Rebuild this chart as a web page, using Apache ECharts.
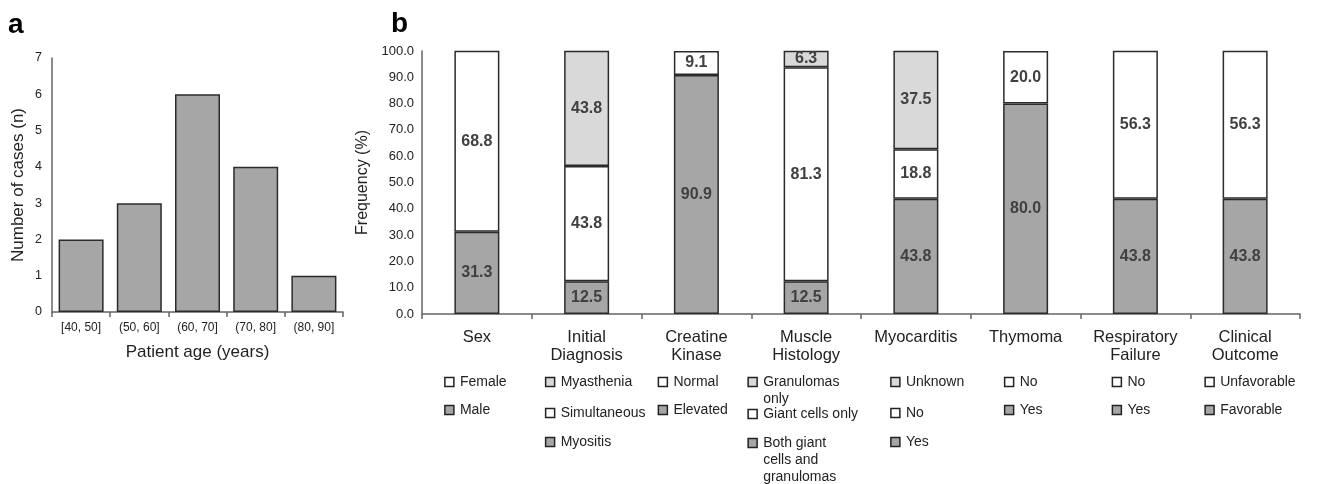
<!DOCTYPE html>
<html>
<head>
<meta charset="utf-8">
<script src="https://cdn.jsdelivr.net/npm/echarts@6/dist/echarts.min.js"></script>
<style>
html,body{margin:0;padding:0;background:#fff;}
#chart{width:1325px;height:484px;}
</style>
</head>
<body>
<div id="chart"></div>
<script>
// ---- Data ----
const ageCategories = ['[40, 50]', '(50, 60]', '(60, 70]', '(70, 80]', '(80, 90]'];
const caseCounts = [2, 3, 6, 4, 1];

const featureCategories = ['Sex', 'Initial\nDiagnosis', 'Creatine\nKinase', 'Muscle\nHistology',
  'Myocarditis', 'Thymoma', 'Respiratory\nFailure', 'Clinical\nOutcome'];
const darkValues  = [31.3, 12.5, 90.9, 12.5, 43.8, 80.0, 43.8, 43.8];
const whiteValues = [68.8, 43.8, 9.1, 81.3, 18.8, 20.0, 56.3, 56.3];
const lightValues = [null, 43.8, null, 6.3, 37.5, null, null, null];

const legendItems = [
  [['Female', 'white'], ['Male', 'dark']],
  [['Myasthenia', 'light'], ['Simultaneous', 'white'], ['Myositis', 'dark']],
  [['Normal', 'white'], ['Elevated', 'dark']],
  [['Granulomas\nonly', 'light'], ['Giant cells only', 'white'], ['Both giant\ncells and\ngranulomas', 'dark']],
  [['Unknown', 'light'], ['No', 'white'], ['Yes', 'dark']],
  [['No', 'white'], ['Yes', 'dark']],
  [['No', 'white'], ['Yes', 'dark']],
  [['Unfavorable', 'white'], ['Favorable', 'dark']]
];

// ---- Layout / style ----
const FONT = '"Liberation Sans", Arial, sans-serif';
const COLORS = { dark: '#a6a6a6', white: '#ffffff', light: '#d9d9d9' };
const BORDER = '#2b2b2b';
const legendOffsets = [-32, -41, -38, -58, -25, -21, -23, -40];
const legendRowOffsets = [
  [68, 96], [68, 99, 128], [68, 96], [68, 100, 129],
  [68, 99, 128], [68, 96], [68, 96], [68, 96]
];

const chart = echarts.init(document.getElementById('chart'), null, { renderer: 'canvas' });

function stackSeries(name, values, color) {
  return {
    name: name, type: 'bar', stack: 'b', xAxisIndex: 1, yAxisIndex: 1,
    barWidth: 45, data: values,
    itemStyle: { color: color, borderColor: BORDER, borderWidth: 1.5 },
    label: {
      show: true, position: 'inside', fontFamily: FONT, fontSize: 16, fontWeight: 'bold',
      color: '#404040',
      formatter: p => (p.value == null ? '' : Number(p.value).toFixed(1))
    },
    emphasis: { disabled: true }
  };
}

const axisLine = { show: true, lineStyle: { color: '#666', width: 1.5 } };

const option = {
  animation: false,
  backgroundColor: '#fff',
  grid: [
    { left: 52, right: 982, top: 58, bottom: 172, containLabel: false },
    { left: 422, right: 25, top: 51, bottom: 170, containLabel: false }
  ],
  xAxis: [
    {
      type: 'category', gridIndex: 0, data: ageCategories,
      axisLine: axisLine, axisTick: { show: true, length: 5, lineStyle: { color: '#666', width: 1.5 } },
      axisLabel: { fontFamily: FONT, fontSize: 12, color: '#222', margin: 10 },
      name: 'Patient age (years)', nameLocation: 'middle', nameGap: 32,
      nameTextStyle: { fontFamily: FONT, fontSize: 17, color: '#222' }
    },
    {
      type: 'category', gridIndex: 1, data: featureCategories,
      axisLine: axisLine, axisTick: { show: true, length: 5, lineStyle: { color: '#666', width: 1.5 } },
      axisLabel: { fontFamily: FONT, fontSize: 16.5, color: '#222', margin: 14, lineHeight: 18, interval: 0 }
    }
  ],
  yAxis: [
    {
      type: 'value', gridIndex: 0, min: 0, max: 7, interval: 1,
      axisLine: axisLine, axisTick: { show: false }, splitLine: { show: false },
      axisLabel: { fontFamily: FONT, fontSize: 12.5, color: '#222', margin: 10 },
      name: 'Number of cases (n)', nameLocation: 'middle', nameGap: 25,
      nameTextStyle: { fontFamily: FONT, fontSize: 17, color: '#222' }
    },
    {
      type: 'value', gridIndex: 1, min: 0, max: 100, interval: 10,
      axisLine: axisLine, axisTick: { show: false }, splitLine: { show: false },
      axisLabel: { fontFamily: FONT, fontSize: 13, color: '#222', margin: 8, formatter: v => v.toFixed(1) },
      name: 'Frequency (%)', nameLocation: 'middle', nameGap: 47,
      nameTextStyle: { fontFamily: FONT, fontSize: 16, color: '#222' }
    }
  ],
  series: [
    {
      name: 'Cases', type: 'bar', xAxisIndex: 0, yAxisIndex: 0, barWidth: 45,
      data: caseCounts,
      itemStyle: { color: '#a6a6a6', borderColor: BORDER, borderWidth: 1.5 },
      emphasis: { disabled: true }
    },
    stackSeries('dark', darkValues, COLORS.dark),
    stackSeries('white', whiteValues, COLORS.white),
    stackSeries('light', lightValues, COLORS.light)
  ],
  graphic: []
};

chart.setOption(option);

// Build category legends beneath panel b, positioned from the axis scale
const graphics = [
  { type: 'text', left: 8, top: 11, style: { text: 'a', font: 'bold 28px ' + FONT, fill: '#000' } },
  { type: 'text', left: 391, top: 10, style: { text: 'b', font: 'bold 28px ' + FONT, fill: '#000' } }
];
const axisY = chart.convertToPixel({ yAxisIndex: 1 }, 0);
legendItems.forEach((items, ci) => {
  const cx = chart.convertToPixel({ xAxisIndex: 1 }, ci);
  const sx = cx + legendOffsets[ci];
  items.forEach((it, ri) => {
    const ry = axisY + legendRowOffsets[ci][ri];
    graphics.push({
      type: 'rect', shape: { x: sx, y: ry - 4.5, width: 9, height: 9 },
      style: { fill: COLORS[it[1]], stroke: '#222', lineWidth: 1.5 }, silent: true
    });
    graphics.push({
      type: 'text', x: sx + 15, y: ry - 8.5,
      style: { text: it[0], font: '14px ' + FONT, fill: '#222', lineHeight: 17, verticalAlign: 'top', align: 'left' },
      silent: true
    });
  });
});
chart.setOption({ graphic: graphics });
</script>
</body>
</html>
